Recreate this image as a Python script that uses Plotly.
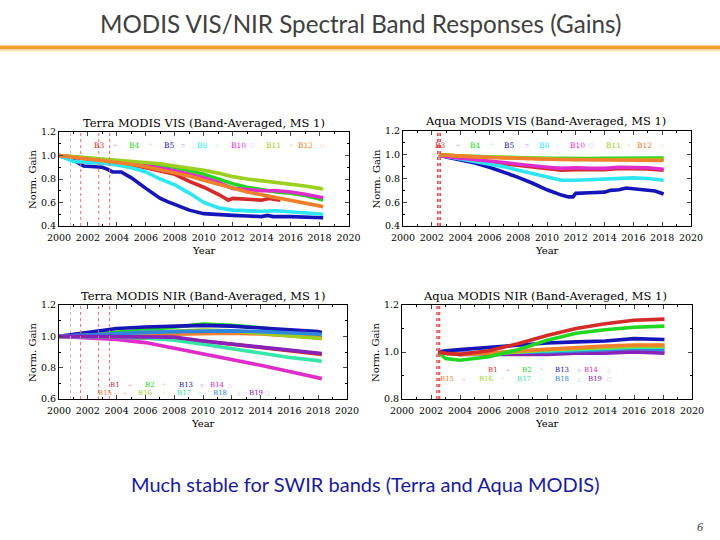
import plotly.graph_objects as go

# ---------------- DATA ----------------
# Terra MODIS VIS
tv_years = [2000, 2001, 2002, 2003, 2004, 2005, 2006, 2007, 2008, 2009, 2010,
            2011, 2012, 2013, 2014, 2015, 2016, 2017, 2018, 2018.25]
tv_B4 = [1.0, 0.99, 0.98, 0.965, 0.955, 0.945, 0.93, 0.915, 0.9, 0.87, 0.84,
         0.8, 0.76, 0.73, 0.71, 0.69, 0.68, 0.66, 0.63, 0.62]
tv_B8 = [1.0, 0.95, 0.94, 0.935, 0.92, 0.895, 0.86, 0.8, 0.75, 0.68, 0.6,
         0.555, 0.535, 0.53, 0.525, 0.53, 0.52, 0.51, 0.5, 0.5]
tv_B10 = [1.0, 0.99, 0.975, 0.96, 0.95, 0.935, 0.915, 0.895, 0.87, 0.84, 0.81,
          0.77, 0.72, 0.71, 0.7, 0.7, 0.69, 0.67, 0.645, 0.64]
tv_B11 = [1.0, 0.99, 0.98, 0.97, 0.96, 0.955, 0.945, 0.93, 0.91, 0.895, 0.875,
          0.85, 0.82, 0.8, 0.785, 0.775, 0.76, 0.74, 0.72, 0.715]
tv_B12 = [1.0, 0.985, 0.975, 0.96, 0.945, 0.925, 0.905, 0.88, 0.855, 0.825, 0.79,
          0.755, 0.72, 0.69, 0.665, 0.64, 0.62, 0.595, 0.57, 0.565]
tv_B3_years = [2000, 2001, 2002, 2003, 2004, 2005, 2006, 2007, 2008, 2009, 2010,
               2011, 2011.7, 2012, 2013, 2014, 2014.5, 2015.3]
tv_B3 = [1.0, 0.985, 0.97, 0.955, 0.94, 0.92, 0.895, 0.87, 0.84, 0.78, 0.73,
         0.67, 0.62, 0.635, 0.625, 0.62, 0.635, 0.62]
tv_B5_years = [2000, 2001, 2001.7, 2002.2, 2003, 2003.4, 2003.7, 2004.3, 2005, 2006,
               2007, 2007.5, 2008, 2009, 2010, 2011, 2012, 2013, 2014, 2014.4,
               2014.8, 2016, 2017, 2018, 2018.25]
tv_B5 = [1.0, 0.96, 0.91, 0.905, 0.9, 0.88, 0.86, 0.86, 0.81, 0.72,
         0.635, 0.607, 0.585, 0.535, 0.505, 0.495, 0.49, 0.485, 0.48, 0.49,
         0.48, 0.48, 0.475, 0.47, 0.47]

# Aqua MODIS VIS
av_years = [2002.5, 2003, 2004, 2005, 2006, 2007, 2008, 2009, 2010, 2011,
            2012, 2013, 2014, 2015, 2016, 2017, 2018.1]
av_B3 = [1.0, 0.985, 0.965, 0.955, 0.94, 0.925, 0.91, 0.895, 0.885, 0.87,
         0.875, 0.875, 0.875, 0.885, 0.885, 0.88, 0.87]
av_B4 = [1.0, 0.995, 0.99, 0.985, 0.98, 0.978, 0.975, 0.972, 0.97, 0.968,
         0.968, 0.968, 0.97, 0.972, 0.975, 0.975, 0.972]
av_B8 = [1.0, 0.985, 0.965, 0.945, 0.925, 0.9, 0.87, 0.84, 0.81, 0.785,
         0.785, 0.79, 0.795, 0.805, 0.805, 0.8, 0.785]
av_B10 = [1.0, 0.985, 0.97, 0.96, 0.95, 0.935, 0.92, 0.905, 0.895, 0.885,
          0.89, 0.885, 0.885, 0.895, 0.895, 0.89, 0.878]
av_B11 = [1.0, 0.995, 0.99, 0.985, 0.98, 0.975, 0.97, 0.967, 0.965, 0.962,
          0.96, 0.96, 0.96, 0.962, 0.962, 0.962, 0.96]
av_B12 = [1.0, 0.995, 0.988, 0.982, 0.977, 0.972, 0.968, 0.965, 0.962, 0.96,
          0.958, 0.957, 0.956, 0.956, 0.955, 0.955, 0.952]
av_B5_years = [2002.5, 2003, 2004, 2005, 2006, 2007, 2008, 2009, 2010, 2011,
               2011.5, 2011.8, 2012, 2013, 2014, 2014.4, 2015, 2015.5, 2016.5,
               2017.5, 2018.1]
av_B5 = [1.0, 0.98, 0.955, 0.93, 0.895, 0.855, 0.81, 0.76, 0.705, 0.66,
         0.645, 0.645, 0.675, 0.68, 0.685, 0.7, 0.705, 0.72, 0.71,
         0.695, 0.67]

# Terra MODIS NIR
tn_years = [2000, 2002, 2004, 2006, 2008, 2010, 2012, 2014, 2016, 2018, 2018.25]
tn_B1 = [1.0, 0.995, 0.99, 0.99, 0.985, 0.97, 0.95, 0.925, 0.905, 0.89, 0.885]
tn_B2 = [1.0, 1.01, 1.025, 1.04, 1.06, 1.078, 1.07, 1.055, 1.03, 1.0, 0.99]
tn_B13 = [1.0, 1.025, 1.05, 1.06, 1.065, 1.07, 1.065, 1.055, 1.04, 1.03, 1.025]
tn_B14 = [1.0, 0.99, 0.98, 0.96, 0.925, 0.89, 0.855, 0.815, 0.775, 0.735, 0.73]
tn_B15 = [1.0, 1.0, 1.005, 1.01, 1.015, 1.02, 1.02, 1.015, 1.005, 0.995, 0.99]
tn_B16 = [1.0, 1.005, 1.015, 1.025, 1.035, 1.04, 1.035, 1.02, 1.005, 0.99, 0.985]
tn_B17 = [1.0, 1.0, 0.995, 0.99, 0.975, 0.95, 0.92, 0.89, 0.865, 0.845, 0.84]
tn_B18 = [1.0, 1.01, 1.02, 1.025, 1.03, 1.035, 1.035, 1.03, 1.025, 1.015, 1.01]
tn_B19 = [1.0, 1.0, 1.0, 1.0, 0.995, 0.97, 0.95, 0.93, 0.91, 0.895, 0.89]

# Aqua MODIS NIR
an_years = [2002.5, 2003, 2004, 2006, 2008, 2010, 2012, 2014, 2016, 2018.1]
an_B1 = [1.0, 0.995, 0.99, 1.005, 1.035, 1.07, 1.1, 1.12, 1.135, 1.14]
an_B2 = [1.0, 0.972, 0.965, 0.98, 1.01, 1.05, 1.08, 1.095, 1.105, 1.11]
an_B13 = [1.0, 1.005, 1.01, 1.02, 1.03, 1.038, 1.043, 1.047, 1.057, 1.053]
an_B14 = [1.0, 1.0, 0.995, 0.995, 0.995, 0.995, 1.0, 1.0, 1.005, 1.0]
an_B15 = [1.0, 0.995, 0.99, 0.995, 1.005, 1.012, 1.02, 1.025, 1.03, 1.03]
an_B16 = [1.0, 0.995, 0.99, 0.995, 1.0, 1.01, 1.015, 1.02, 1.025, 1.025]
an_B17 = [1.0, 0.995, 0.99, 0.995, 1.0, 1.005, 1.01, 1.015, 1.02, 1.02]
an_B18 = [1.0, 1.0, 0.995, 0.995, 1.0, 1.0, 1.005, 1.01, 1.015, 1.01]
an_B19 = [1.0, 0.995, 0.99, 0.99, 0.99, 0.99, 0.995, 0.995, 1.0, 0.995]

# event marker years (vertical dotted lines)
terra_events = [2001.5, 2002.75, 2003.5]
terra_events_faint = [2000.8]
aqua_events = [2002.4, 2002.5, 2002.6]

year_ticks = list(range(2000, 2021, 2))

# legend labels / symbols
vis_labels = ["B3", "B4", "B5", "B8", "B10", "B11", "B12"]
vis_symbols = ["+", "*", "◇", "△", "□", "×", "○"]
nir_row1 = ["B1", "B2", "B13", "B14"]
nir_row1_sym = ["+", "*", "◇", "△"]
nir_row2 = ["B15", "B16", "B17", "B18", "B19"]
nir_row2_sym = ["+", "*", "◇", "△", "□"]

# ---------------- STYLE ----------------
COL = {
    "B3": "#d42a2a", "B1": "#d42a2a",
    "B4": "#22d622", "B2": "#22d622",
    "B5": "#1616b8", "B13": "#1616b8",
    "B8": "#2ce6f2",
    "B10": "#e02cc8", "B14": "#e02cc8",
    "B11": "#9ccf1e", "B16": "#9ccf1e",
    "B12": "#f0802c", "B15": "#f0802c",
    "B17": "#36e6a8",
    "B18": "#2f86e0",
    "B19": "#8a22b8",
}
PF = "DejaVu Serif"
LW = 3.6

fig = go.Figure()

def add(xa, ya, x, y, band):
    fig.add_trace(go.Scatter(x=x, y=y, mode="lines", xaxis=xa, yaxis=ya,
                             line=dict(color=COL[band], width=LW),
                             showlegend=False, hoverinfo="skip"))

# Terra VIS
add("x", "y", tv_B3_years, tv_B3, "B3")
add("x", "y", tv_years, tv_B4, "B4")
add("x", "y", tv_B5_years, tv_B5, "B5")
add("x", "y", tv_years, tv_B8, "B8")
add("x", "y", tv_years, tv_B10, "B10")
add("x", "y", tv_years, tv_B11, "B11")
add("x", "y", tv_years, tv_B12, "B12")
# Aqua VIS
add("x2", "y2", av_years, av_B3, "B3")
add("x2", "y2", av_years, av_B4, "B4")
add("x2", "y2", av_B5_years, av_B5, "B5")
add("x2", "y2", av_years, av_B8, "B8")
add("x2", "y2", av_years, av_B10, "B10")
add("x2", "y2", av_years, av_B11, "B11")
add("x2", "y2", av_years, av_B12, "B12")
# Terra NIR
for b, v in [("B1", tn_B1), ("B2", tn_B2), ("B13", tn_B13), ("B14", tn_B14),
             ("B15", tn_B15), ("B16", tn_B16), ("B17", tn_B17), ("B18", tn_B18),
             ("B19", tn_B19)]:
    add("x3", "y3", tn_years, v, b)
# Aqua NIR
for b, v in [("B14", an_B14), ("B19", an_B19), ("B18", an_B18), ("B17", an_B17),
             ("B16", an_B16), ("B15", an_B15), ("B13", an_B13), ("B2", an_B2),
             ("B1", an_B1)]:
    add("x4", "y4", an_years, v, b)

W, H = 720, 540
def px(xp): return xp / W
def py(yp): return 1 - yp / H

panels = {
    "1": dict(x=(59, 348.5), y=(132, 226), yr=(0.4, 1.2), tc=204),
    "2": dict(x=(403, 691), y=(131, 226), yr=(0.4, 1.2), tc=545),
    "3": dict(x=(59, 347), y=(305, 399), yr=(0.6, 1.2), tc=203),
    "4": dict(x=(402, 692), y=(305, 399), yr=(0.8, 1.2), tc=545),
}

layout = dict(width=W, height=H, margin=dict(l=0, r=0, t=0, b=0),
              paper_bgcolor="white", plot_bgcolor="white", showlegend=False)
for k, p in panels.items():
    xk = "xaxis" if k == "1" else f"xaxis{k}"
    yk = "yaxis" if k == "1" else f"yaxis{k}"
    xa = "x" if k == "1" else f"x{k}"
    ya = "y" if k == "1" else f"y{k}"
    layout[xk] = dict(domain=[px(p["x"][0]), px(p["x"][1])], range=[2000, 2020],
                      anchor=ya, tickvals=year_ticks, ticks="inside", ticklen=4,
                      showline=True, mirror="ticks", linecolor="black", linewidth=1,
                      showgrid=False, zeroline=False, automargin=False,
                      ticklabelstandoff=3,
                      tickfont=dict(family=PF, size=9.5, color="black"),
                      minor=dict(ticks="inside", ticklen=2, dtick=1, tickcolor="black"))
    layout[yk] = dict(domain=[py(p["y"][1]), py(p["y"][0])], range=list(p["yr"]),
                      anchor=xa, dtick=0.2, tickformat=".1f", ticks="inside", ticklen=4,
                      showline=True, mirror="ticks", linecolor="black", linewidth=1,
                      showgrid=False, zeroline=False, automargin=False,
                      tickfont=dict(family=PF, size=9.5, color="black"),
                      minor=dict(ticks="inside", ticklen=2, dtick=0.1, tickcolor="black"))
fig.update_layout(**layout)

shapes = []
def vline(xref, yref, xv, color, width=1, dash="dot"):
    shapes.append(dict(type="line", xref=xref, yref=yref + " domain", x0=xv, x1=xv,
                       y0=0, y1=1, line=dict(color=color, width=width, dash=dash)))
for xr, yr in [("x", "y"), ("x3", "y3")]:
    for e in terra_events:
        vline(xr, yr, e, "#e07070")
    for e in terra_events_faint:
        vline(xr, yr, e, "#d8b0b0")
for xr, yr in [("x2", "y2"), ("x4", "y4")]:
    for e in aqua_events:
        vline(xr, yr, e, "#e05050", width=1.2)

# slide decoration
shapes.append(dict(type="line", xref="paper", yref="paper", x0=0, x1=1,
                   y0=py(47.5), y1=py(47.5), line=dict(color="#f0a028", width=4)))
shapes.append(dict(type="line", xref="paper", yref="paper", x0=0, x1=1,
                   y0=py(50.5), y1=py(50.5), line=dict(color="#fbe3b8", width=2)))

ann = []
ann.append(dict(text="MODIS VIS/NIR Spectral Band Responses (Gains)", x=px(360), y=py(24),
                xref="paper", yref="paper", showarrow=False, xanchor="center", yanchor="middle",
                font=dict(family="Lato", size=24.2, color="#404040")))
ann.append(dict(text="Much stable for SWIR bands (Terra and Aqua MODIS)", x=px(365), y=py(484),
                xref="paper", yref="paper", showarrow=False, xanchor="center", yanchor="middle",
                font=dict(family="Lato", size=20, color="#1a1a9c")))
ann.append(dict(text="<i>6</i>", x=px(700), y=py(527), xref="paper", yref="paper",
                showarrow=False, xanchor="center", yanchor="middle",
                font=dict(family="Liberation Serif", size=12, color="#404040")))

titles = {"1": "Terra MODIS VIS (Band-Averaged, MS 1)",
          "2": "Aqua MODIS VIS (Band-Averaged, MS 1)",
          "3": "Terra MODIS NIR (Band-Averaged, MS 1)",
          "4": "Aqua MODIS NIR (Band-Averaged, MS 1)"}
for k, p in panels.items():
    ann.append(dict(text=titles[k], x=px(p["tc"]), y=py(p["y"][0] - 9.5), xref="paper",
                    yref="paper", showarrow=False, xanchor="center", yanchor="middle",
                    font=dict(family=PF, size=11.5, color="black")))
    ann.append(dict(text="Year", x=px((p["x"][0] + p["x"][1]) / 2), y=py(p["y"][1] + 24),
                    xref="paper", yref="paper", showarrow=False, xanchor="center",
                    yanchor="middle", font=dict(family=PF, size=10, color="black")))
    ann.append(dict(text="Norm. Gain", x=px(p["x"][0] - 27), y=py((p["y"][0] + p["y"][1]) / 2),
                    xref="paper", yref="paper", showarrow=False, textangle=-90,
                    xanchor="center", yanchor="middle",
                    font=dict(family=PF, size=10, color="black")))

def leg(xr, yr, labels, syms, xs, xsyms, yv, size=7.5):
    for lab, s, x0, x1 in zip(labels, syms, xs, xsyms):
        ann.append(dict(text=lab, x=x0, y=yv, xref=xr, yref=yr, showarrow=False,
                        xanchor="center", yanchor="middle",
                        font=dict(family=PF, size=size, color=COL[lab])))
        ann.append(dict(text=s, x=x1, y=yv, xref=xr, yref=yr, showarrow=False,
                        xanchor="center", yanchor="middle", opacity=0.5,
                        font=dict(family=PF, size=5, color=COL[lab])))

vis_lab_x = [2002.8, 2005.2, 2007.6, 2009.9, 2012.4, 2014.8, 2017.0]
vis_sym_x = [2003.9, 2006.3, 2008.6, 2010.9, 2013.4, 2016.0, 2018.2]
leg("x", "y", vis_labels, vis_symbols, vis_lab_x, vis_sym_x, 1.089)
av_lab_x = [2002.6, 2005.0, 2007.4, 2009.8, 2012.1, 2014.6, 2016.8]
av_sym_x = [2003.8, 2006.2, 2008.6, 2010.7, 2013.1, 2015.7, 2018.0]
leg("x2", "y2", vis_labels, vis_symbols, av_lab_x, av_sym_x, 1.082)
leg("x3", "y3", nir_row1, nir_row1_sym, [2003.9, 2006.3, 2008.8, 2011.0],
    [2004.9, 2007.3, 2009.9, 2011.9], 0.692, size=7)
leg("x3", "y3", nir_row2, nir_row2_sym, [2003.2, 2006.0, 2008.7, 2011.2, 2013.7],
    [2004.6, 2007.3, 2009.8, 2012.5, 2014.5], 0.64, size=7)
leg("x4", "y4", nir_row1, nir_row1_sym, [2006.3, 2008.6, 2011.0, 2013.1],
    [2007.3, 2009.6, 2012.2, 2014.3], 0.925, size=7)
leg("x4", "y4", nir_row2, nir_row2_sym, [2003.1, 2005.8, 2008.4, 2011.0, 2013.3],
    [2004.3, 2007.0, 2009.6, 2012.2, 2014.3], 0.886, size=7)

fig.update_layout(shapes=shapes, annotations=ann)
fig.write_html("out.html", config={"displayModeBar": False},
               post_script="document.body.style.margin='0';"
                           "document.body.style.overflow='hidden';")
